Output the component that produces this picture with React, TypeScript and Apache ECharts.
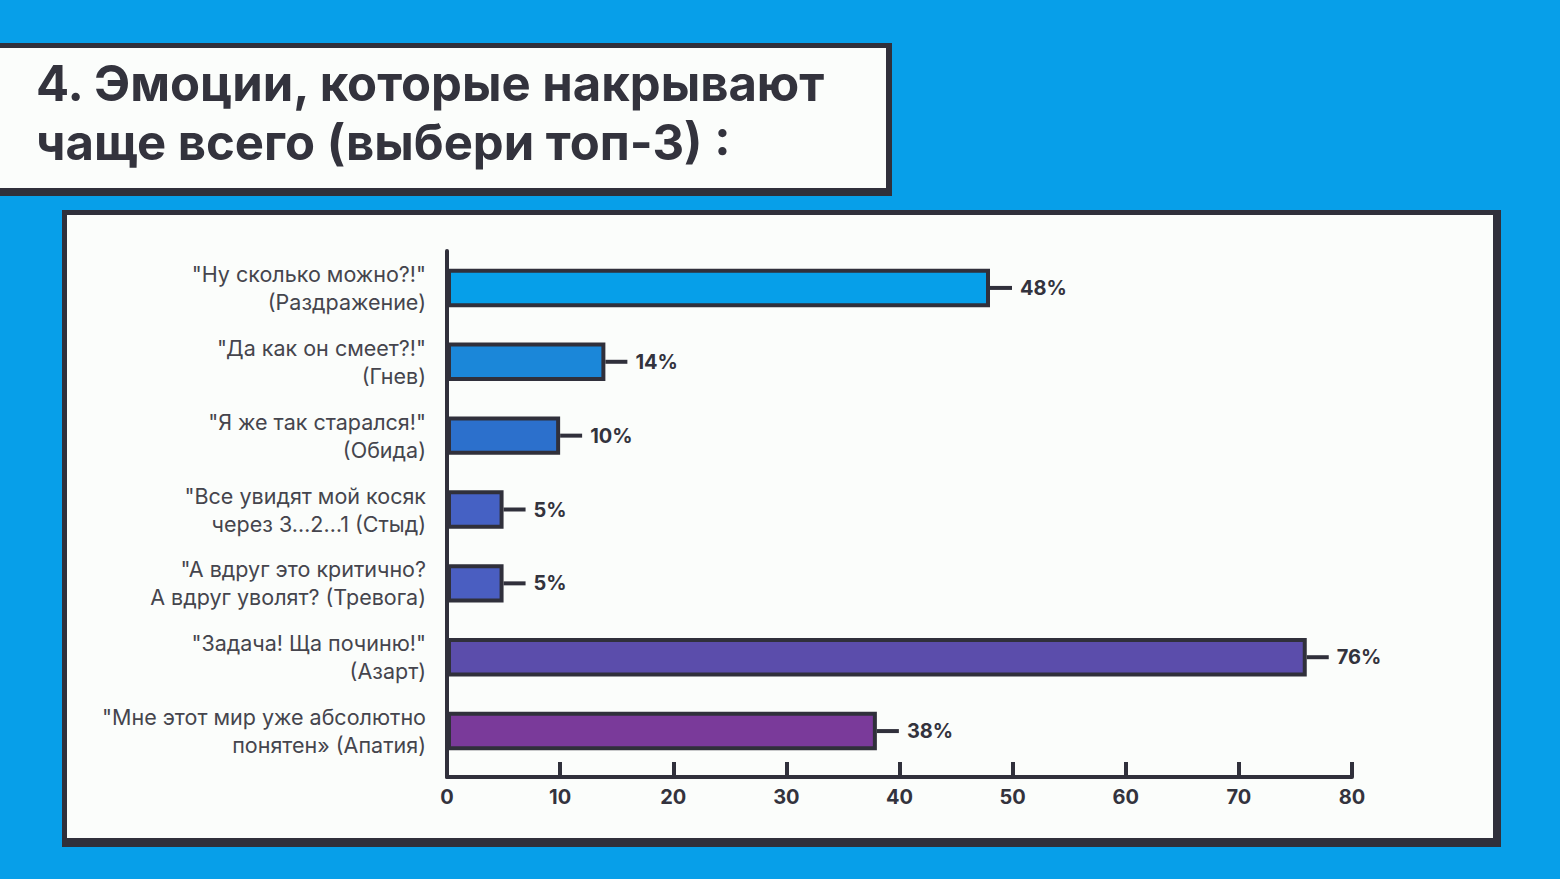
import React, { useEffect, useRef } from 'react';
import * as echarts from 'echarts';

const categories = [
  '"Ну сколько можно?!"\n(Раздражение)',
  '"Да как он смеет?!"\n(Гнев)',
  '"Я же так старался!"\n(Обида)',
  '"Все увидят мой косяк\nчерез 3…2…1 (Стыд)',
  '"А вдруг это критично?\nА вдруг уволят? (Тревога)',
  '"Задача! Ща починю!"\n(Азарт)',
  '"Мне этот мир уже абсолютно\nпонятен» (Апатия)'
];
const values = [48, 14, 10, 5, 5, 76, 38];
const barColors = ['#069fe9', '#1b87d9', '#2c70cc', '#4561c4', '#4a5ec1', '#5b4dab', '#7a3a9a'];
const xTicks = [0, 80, 10];

const DARK = '#30303b';
const BLUE = '#079fe9';
const PAPER = '#fbfdfb';

const App: React.FC = () => {
  const chartRef = useRef<HTMLDivElement>(null);

  useEffect(() => {
    if (!chartRef.current) return;
    document.body.style.margin = '0';
    const chart = echarts.init(chartRef.current, null, { renderer: 'svg' });

    const option: any = {
      animation: false,
      backgroundColor: BLUE,
      title: {
        text: '4. Эмоции, которые накрывают\nчаще всего (выбери топ-3) :',
        left: 31,
        top: 49,
        textStyle: {
          fontFamily: 'Inter',
          fontWeight: 'bold',
          fontSize: 49,
          lineHeight: 59,
          color: '#33333d'
        }
      },
      graphic: [
        // title card
        { type: 'rect', z: -10, shape: { x: -10, y: 43, width: 902, height: 153 }, style: { fill: DARK } },
        { type: 'rect', z: -9, shape: { x: -10, y: 48, width: 896, height: 140 }, style: { fill: PAPER } },
        // chart card
        { type: 'rect', z: -10, shape: { x: 62, y: 210, width: 1439, height: 637 }, style: { fill: DARK } },
        { type: 'rect', z: -9, shape: { x: 67, y: 215, width: 1426, height: 623 }, style: { fill: PAPER } }
      ],
      grid: [
        // bars
        { left: 447, right: 208, top: 251, bottom: 111, containLabel: false },
        // axes frame
        { left: 447, right: 208, top: 251, bottom: 102, containLabel: false }
      ],
      xAxis: [
        {
          gridIndex: 0,
          type: 'value',
          min: xTicks[0],
          max: xTicks[1],
          interval: xTicks[2],
          show: false
        },
        {
          gridIndex: 1,
          type: 'value',
          min: xTicks[0],
          max: xTicks[1],
          interval: xTicks[2],
          axisLine: { show: true, lineStyle: { color: DARK, width: 4, cap: 'round' } },
          axisTick: { show: true, inside: true, length: 15, lineStyle: { color: DARK, width: 4 } },
          splitLine: { show: false },
          axisLabel: {
            color: '#33333d',
            fontFamily: 'Inter',
            fontWeight: 'bold',
            fontSize: 20,
            margin: 10
          }
        }
      ],
      yAxis: [
        {
          gridIndex: 0,
          type: 'category',
          inverse: true,
          data: categories,
          axisLine: { show: false },
          axisTick: { show: false },
          axisLabel: {
            color: '#45454d',
            fontFamily: 'Inter',
            fontSize: 21.5,
            lineHeight: 28,
            margin: 21,
            align: 'right'
          }
        },
        {
          gridIndex: 1,
          type: 'value',
          min: 0,
          max: 1,
          axisLine: { show: true, lineStyle: { color: DARK, width: 4, cap: 'round' } },
          axisTick: { show: false },
          axisLabel: { show: false },
          splitLine: { show: false }
        }
      ],
      series: [
        {
          type: 'bar',
          xAxisIndex: 0,
          yAxisIndex: 0,
          data: values.map((v, i) => ({
            value: v,
            itemStyle: { color: barColors[i] }
          })),
          barWidth: '52%',
          itemStyle: { borderColor: DARK, borderWidth: 4 },
          label: {
            show: true,
            position: 'right',
            distance: 0,
            formatter: (p: any) => `{d|}{v|${p.value}%}`,
            rich: {
              d: { width: 22, height: 4, backgroundColor: DARK },
              v: {
                fontFamily: 'Inter',
                fontWeight: 'bold',
                fontSize: 20,
                color: '#33333d',
                padding: [0, 0, 0, 8]
              }
            }
          }
        }
      ]
    };

    chart.setOption(option);
    return () => chart.dispose();
  }, []);

  return <div ref={chartRef} style={{ position: 'fixed', left: 0, top: 0, width: 1560, height: 879 }} />;
};

export default App;
